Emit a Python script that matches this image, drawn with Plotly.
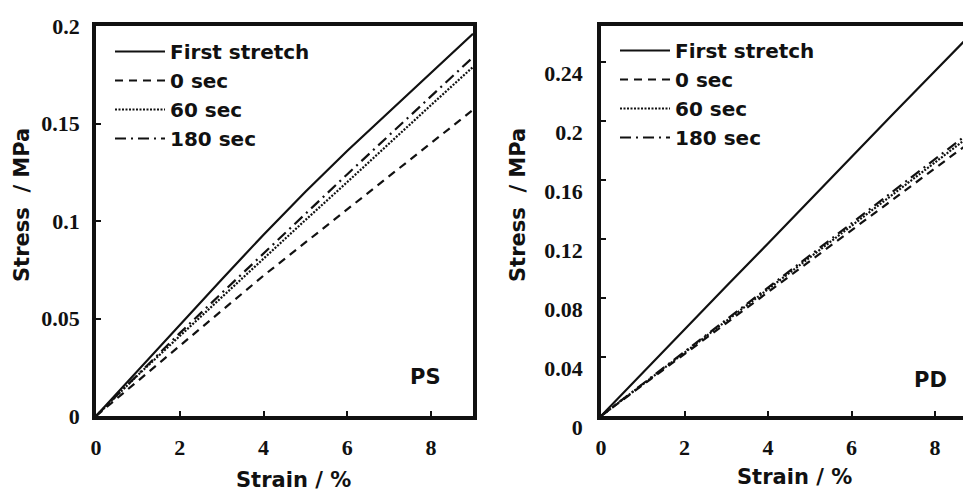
import plotly.graph_objects as go

strain = [0, 1, 2, 3, 4, 5, 6, 7, 8, 9]

ps_first = [0, 0.0235, 0.047, 0.070, 0.093, 0.115, 0.136, 0.156, 0.176, 0.196]
ps_0 = [0, 0.018, 0.036, 0.054, 0.072, 0.089, 0.106, 0.123, 0.140, 0.157]
ps_60 = [0, 0.021, 0.041, 0.061, 0.081, 0.1005, 0.120, 0.140, 0.1595, 0.179]
ps_180 = [0, 0.0215, 0.0425, 0.063, 0.0835, 0.104, 0.124, 0.144, 0.164, 0.184]

pd_first = [0, 0.0295, 0.059, 0.088, 0.117, 0.1465, 0.176, 0.205, 0.234, 0.263]
pd_0 = [0, 0.021, 0.042, 0.063, 0.084, 0.105, 0.126, 0.147, 0.168, 0.189]
pd_60 = [0, 0.0215, 0.043, 0.0645, 0.086, 0.1075, 0.129, 0.1505, 0.172, 0.1935]
pd_180 = [0, 0.0218, 0.0436, 0.0654, 0.0872, 0.109, 0.1308, 0.1526, 0.1744, 0.196]

names = ["First stretch", "0 sec", "60 sec", "180 sec"]
dashes = ["solid", "8px,6px", "2px,1.5px", "11px,5px,2px,5px"]

ps_x_ticks = [0, 2, 4, 6, 8]
ps_y_ticks = [0, 0.05, 0.1, 0.15, 0.2]
ps_y_labels = ["0", "0.05", "0.1", "0.15", "0.2"]
pd_y_ticks = [0, 0.04, 0.08, 0.12, 0.16, 0.2, 0.24]
pd_y_labels = ["0", "0.04", "0.08", "0.12", "0.16", "0.2", "0.24"]

W, H = 963, 491
SANS = "DejaVu Sans, Arial, sans-serif"
SERIF = "Liberation Serif, Times New Roman, serif"
INK = "#111111"

fig = go.Figure()
for ys, nm, ds in zip([ps_first, ps_0, ps_60, ps_180], names, dashes):
    fig.add_trace(go.Scatter(x=strain, y=ys, mode="lines", name=nm,
                             line=dict(color=INK, width=2.2, dash=ds),
                             xaxis="x", yaxis="y", legend="legend"))
for ys, nm, ds in zip([pd_first, pd_0, pd_60, pd_180], names, dashes):
    fig.add_trace(go.Scatter(x=strain, y=ys, mode="lines", name=nm,
                             line=dict(color=INK, width=2.2, dash=ds),
                             xaxis="x2", yaxis="y2", legend="legend2"))

ydom = [1 - 416 / H, 1 - 26 / H]
axis_common = dict(showgrid=False, zeroline=False, showline=True, linecolor=INK,
                   linewidth=3.5, ticks="inside", ticklen=5, tickwidth=1.5,
                   tickcolor=INK, automargin=False,
                   tickfont=dict(family=SERIF, size=22, color=INK, weight="bold"))

legend_common = dict(xanchor="left", yanchor="top", bgcolor="rgba(0,0,0,0)",
                     borderwidth=0, itemwidth=50, tracegroupgap=0,
                     font=dict(family=SANS, size=20, color=INK, weight="bold"))

fig.update_layout(
    width=W, height=H,
    margin=dict(l=0, r=0, t=0, b=0, pad=0, autoexpand=False),
    paper_bgcolor="white", plot_bgcolor="white", showlegend=True,
    xaxis=dict(domain=[96 / W, 473 / W], range=[0, 9], tickvals=ps_x_ticks,
               mirror=True, ticklabelstandoff=9, anchor="y", **axis_common),
    yaxis=dict(domain=ydom, range=[0, 0.2], tickvals=ps_y_ticks, ticktext=ps_y_labels,
               mirror=True, ticklabelstandoff=8, anchor="x", **axis_common),
    xaxis2=dict(domain=[601 / W, 1.0], range=[0, 8.67], tickvals=ps_x_ticks,
                mirror=True, ticklabelstandoff=9, anchor="y2", **axis_common),
    yaxis2=dict(domain=ydom, range=[0, 0.2645], tickvals=pd_y_ticks, ticktext=pd_y_labels,
                mirror=False, ticklabelstandoff=10, ticklabelshift=11, anchor="x2",
                **axis_common),
    legend=dict(x=110 / W, y=1 - 32 / H, **legend_common),
    legend2=dict(x=615 / W, y=1 - 31 / H, **legend_common),
)

ann_font = dict(family=SANS, size=21, color=INK, weight="bold")
annotations = [
    dict(text="Stress\u00a0\u00a0/ MPa", x=22 / W, y=1 - 205 / H, textangle=-90),
    dict(text="Stress\u00a0\u00a0/ MPa", x=518 / W, y=1 - 205 / H, textangle=-90),
    dict(text="Strain / %", x=293 / W, y=1 - 480 / H),
    dict(text="Strain / %", x=794 / W, y=1 - 477 / H),
    dict(text="PS", x=425 / W, y=1 - 377 / H),
    dict(text="PD", x=930 / W, y=1 - 380 / H),
]
for a in annotations:
    fig.add_annotation(xref="paper", yref="paper", showarrow=False,
                       xanchor="center", yanchor="middle", font=ann_font, **a)

fig.write_html("out.html")
